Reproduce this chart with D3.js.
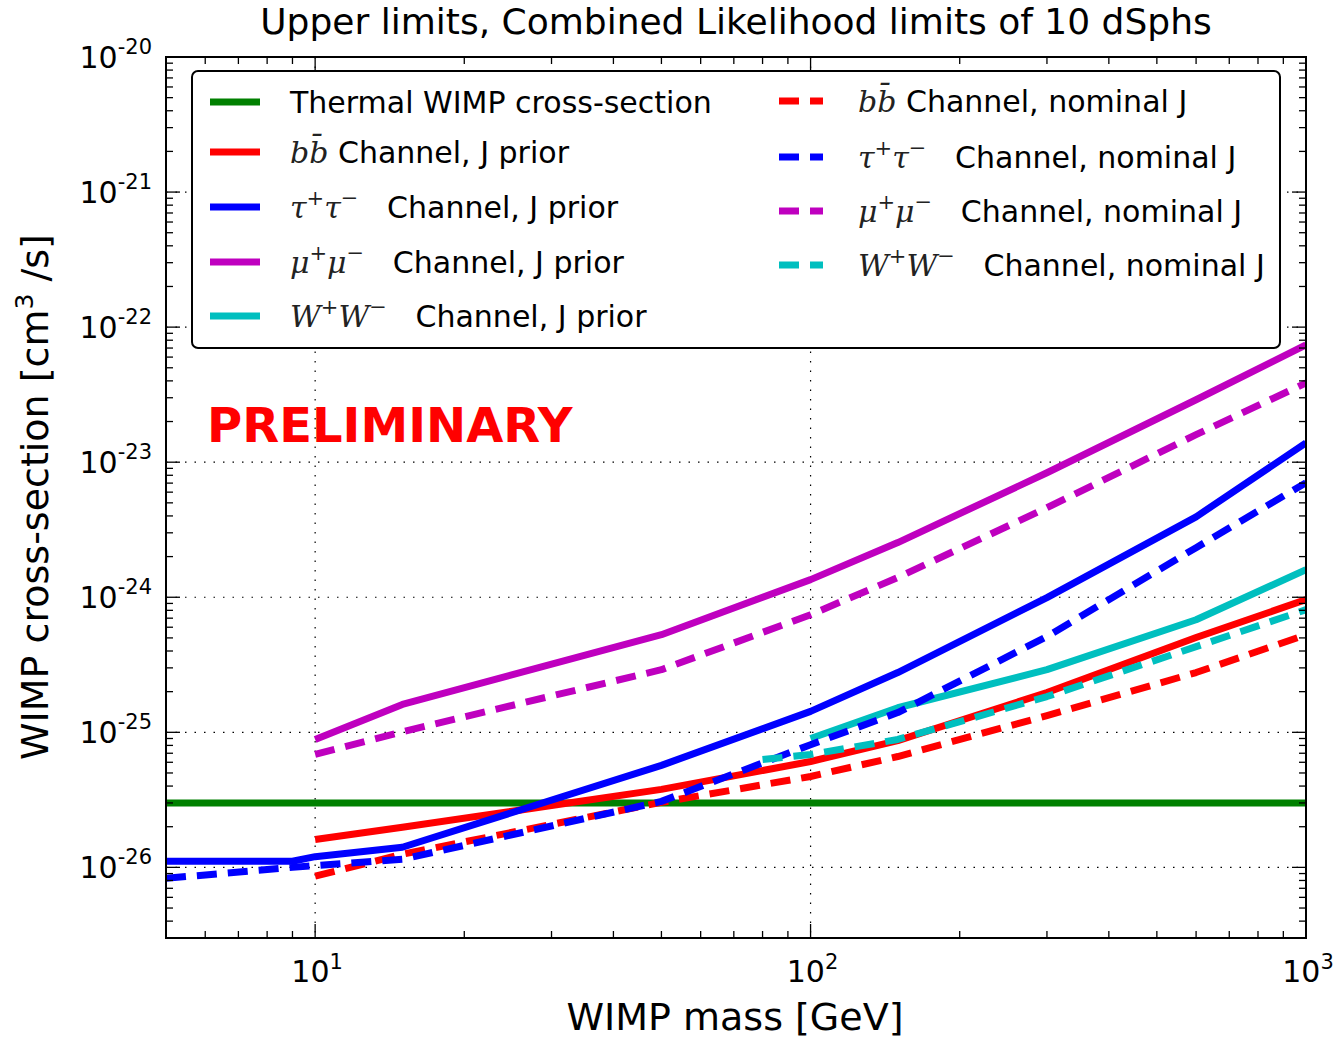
<!DOCTYPE html>
<html lang="en">
<head>
  <meta charset="UTF-8" />
  <title>Upper limits, Combined Likelihood limits of 10 dSphs</title>
  <script src="https://d3js.org/d3.v7.min.js"></script>
  <style>
    body { margin: 0; background: #fff; }
    text { font-family: "DejaVu Sans", sans-serif; fill: #000; }
    .math { font-family: "DejaVu Serif", serif; font-style: italic; fill: #222; }
  </style>
</head>
<body>
<div id="chart"></div>
<script>
  // masses [GeV]
  var massJ = [10, 15, 50, 100, 150, 300, 600, 1000];
  var massTau = [5, 9, 10, 15, 50, 100, 150, 300, 600, 1000];
  var massWW = [100, 150, 300, 600, 1000];
  var massWWnom = [80, 100, 150, 300, 600, 1000];

  // cross-section upper limits [cm^3/s]
  var bbPrior = [1.61e-26, 1.98e-26, 3.78e-26, 6.08e-26, 8.69e-26, 1.97e-25, 5.03e-25, 9.6e-25];
  var bbNom = [8.6e-27, 1.25e-26, 3.03e-26, 4.71e-26, 6.62e-26, 1.33e-25, 2.77e-25, 5.28e-25];
  var tauPrior = [1.11e-26, 1.11e-26, 1.2e-26, 1.41e-26, 5.69e-26, 1.43e-25, 2.77e-25, 9.93e-25, 3.94e-24, 1.39e-23];
  var tauNom = [8.3e-27, 1.0e-26, 1.03e-26, 1.15e-26, 3.08e-26, 8.1e-26, 1.40e-25, 5.12e-25, 2.33e-24, 7.05e-24];
  var muPrior = [8.85e-26, 1.61e-25, 5.28e-25, 1.35e-24, 2.54e-24, 8.35e-24, 2.9e-23, 7.38e-23];
  var muNom = [6.86e-26, 1.01e-25, 2.91e-25, 7.43e-25, 1.40e-24, 4.6e-24, 1.6e-23, 3.86e-23];
  var wwPrior = [9.0e-26, 1.52e-25, 2.91e-25, 6.82e-25, 1.60e-24];
  var wwNom = [6.29e-26, 6.86e-26, 8.85e-26, 1.84e-25, 4.31e-25, 8.09e-25];
  var thermal = 3e-26;

  var xTicks = [10, 100, 1000];
  var yTicks = [1e-26, 1e-25, 1e-24, 1e-23, 1e-22, 1e-21, 1e-20];

  var W = 1334, H = 1038;
  var pLeft = 166, pRight = 1306, pTop = 57, pBottom = 938;

  var svg = d3.select("#chart").append("svg")
    .attr("width", W)
    .attr("height", H);

  var x = d3.scaleLog().domain([5, 1000]).range([pLeft, pRight]);
  var y = d3.scaleLog().domain([3e-27, 1e-20]).range([pBottom, pTop]);

  svg.append("clipPath").attr("id", "clip")
    .append("rect")
    .attr("x", pLeft).attr("y", pTop)
    .attr("width", pRight - pLeft).attr("height", pBottom - pTop);

  // grid
  var grid = svg.append("g").attr("stroke", "#000").attr("stroke-width", 1.2)
    .attr("stroke-dasharray", "1.5,8");
  xTicks.filter(function(d) { return d < 1000; }).forEach(function(d) {
    grid.append("line").attr("x1", x(d)).attr("x2", x(d)).attr("y1", pTop).attr("y2", pBottom);
  });
  yTicks.filter(function(d) { return d < 1e-20; }).forEach(function(d) {
    grid.append("line").attr("x1", pLeft).attr("x2", pRight).attr("y1", y(d)).attr("y2", y(d));
  });

  // series
  var series = [
    { name: "thermal", m: [5, 1000], v: [thermal, thermal], color: "#008000", dash: null },
    { name: "bbPrior", m: massJ, v: bbPrior, color: "#ff0000", dash: null },
    { name: "tauPrior", m: massTau, v: tauPrior, color: "#0000ff", dash: null },
    { name: "muPrior", m: massJ, v: muPrior, color: "#bf00bf", dash: null },
    { name: "wwPrior", m: massWW, v: wwPrior, color: "#00bfbf", dash: null },
    { name: "bbNom", m: massJ, v: bbNom, color: "#ff0000", dash: "20,11" },
    { name: "tauNom", m: massTau, v: tauNom, color: "#0000ff", dash: "20,11" },
    { name: "muNom", m: massJ, v: muNom, color: "#bf00bf", dash: "20,11" },
    { name: "wwNom", m: massWWnom, v: wwNom, color: "#00bfbf", dash: "20,11" }
  ];

  var line = d3.line()
    .x(function(d) { return x(d[0]); })
    .y(function(d) { return y(d[1]); });

  var plot = svg.append("g").attr("clip-path", "url(#clip)");
  series.forEach(function(s) {
    var pts = s.m.map(function(m, i) { return [m, s.v[i]]; });
    plot.append("path")
      .datum(pts)
      .attr("d", line)
      .attr("fill", "none")
      .attr("stroke", s.color)
      .attr("stroke-width", 7)
      .attr("stroke-linejoin", "round")
      .attr("stroke-dasharray", s.dash);
  });

  // ticks on all four sides, pointing inward
  var ticks = svg.append("g").attr("stroke", "#000").attr("stroke-width", 1.3);
  var xMinor = [];
  [1, 10, 100].forEach(function(dec) {
    for (var k = 2; k <= 9; k++) {
      var v = dec * k;
      if (v > 5 && v < 1000 && v !== 10 && v !== 100) xMinor.push(v);
    }
  });
  var yMinor = [];
  [-27, -26, -25, -24, -23, -22, -21].forEach(function(e) {
    for (var k = 2; k <= 9; k++) {
      var v = k * Math.pow(10, e);
      if (v > 3e-27 && v < 1e-20) yMinor.push(v);
    }
  });
  function xt(v, len) {
    ticks.append("line").attr("x1", x(v)).attr("x2", x(v)).attr("y1", pBottom).attr("y2", pBottom - len);
    ticks.append("line").attr("x1", x(v)).attr("x2", x(v)).attr("y1", pTop).attr("y2", pTop + len);
  }
  function yt(v, len) {
    ticks.append("line").attr("y1", y(v)).attr("y2", y(v)).attr("x1", pLeft).attr("x2", pLeft + len);
    ticks.append("line").attr("y1", y(v)).attr("y2", y(v)).attr("x1", pRight).attr("x2", pRight - len);
  }
  xTicks.forEach(function(v) { xt(v, 14); });
  xMinor.forEach(function(v) { xt(v, 7); });
  yTicks.forEach(function(v) { yt(v, 14); });
  yMinor.forEach(function(v) { yt(v, 7); });

  // frame
  svg.append("rect")
    .attr("x", pLeft).attr("y", pTop)
    .attr("width", pRight - pLeft).attr("height", pBottom - pTop)
    .attr("fill", "none").attr("stroke", "#000").attr("stroke-width", 2);

  // tick labels
  xTicks.forEach(function(v) {
    var t = svg.append("text")
      .attr("x", x(v) + 2).attr("y", 982)
      .attr("text-anchor", "middle")
      .style("font-size", "30px");
    t.append("tspan").text("10");
    t.append("tspan").attr("dy", -13).style("font-size", "21px").text(Math.round(Math.log10(v)));
  });
  yTicks.forEach(function(v) {
    var t = svg.append("text")
      .attr("x", 152).attr("y", y(v) + 11)
      .attr("text-anchor", "end")
      .style("font-size", "30px");
    t.append("tspan").text("10");
    t.append("tspan").attr("dy", -14).style("font-size", "21px").text(Math.round(Math.log10(v)));
  });

  // axis titles
  svg.append("text")
    .attr("x", 735).attr("y", 1030)
    .attr("text-anchor", "middle")
    .style("font-size", "38px")
    .text("WIMP mass [GeV]");

  var yl = svg.append("text")
    .attr("transform", "translate(48,497) rotate(-90)")
    .attr("text-anchor", "middle")
    .style("font-size", "38px");
  yl.append("tspan").text("WIMP cross-section [cm");
  yl.append("tspan").attr("dy", -15).style("font-size", "25px").text("3");
  yl.append("tspan").attr("dy", 15).text(" /s]");

  svg.append("text")
    .attr("x", 736).attr("y", 34)
    .attr("text-anchor", "middle")
    .style("font-size", "36px")
    .text("Upper limits, Combined Likelihood limits of 10 dSphs");

  svg.append("text")
    .attr("x", 207).attr("y", 442)
    .style("font-size", "48px")
    .style("font-weight", "bold")
    .style("fill", "#ff0000")
    .text("PRELIMINARY");

  // legend
  var lg = svg.append("g");
  lg.append("rect")
    .attr("x", 192).attr("y", 71)
    .attr("width", 1088).attr("height", 277)
    .attr("rx", 6)
    .attr("fill", "#fff").attr("stroke", "#000").attr("stroke-width", 2);

  // math parts: [text, superscript?]
  var mathBB = [["bb\u0304", false]];
  var mathTau = [["\u03c4", false], ["+", true], ["\u03c4", false], ["\u2212", true]];
  var mathMu = [["\u03bc", false], ["+", true], ["\u03bc", false], ["\u2212", true]];
  var mathWW = [["W", false], ["+", true], ["W", false], ["\u2212", true]];

  var legendLeft = [
    { s: 0, math: null, label: "Thermal WIMP cross-section", y: 102 },
    { s: 1, math: mathBB, label: " Channel, J prior", y: 152 },
    { s: 2, math: mathTau, label: "   Channel, J prior", y: 207 },
    { s: 3, math: mathMu, label: "   Channel, J prior", y: 262 },
    { s: 4, math: mathWW, label: "   Channel, J prior", y: 316 }
  ];
  var legendRight = [
    { s: 5, math: mathBB, label: " Channel, nominal J", y: 101 },
    { s: 6, math: mathTau, label: "   Channel, nominal J", y: 157 },
    { s: 7, math: mathMu, label: "   Channel, nominal J", y: 211 },
    { s: 8, math: mathWW, label: "   Channel, nominal J", y: 265 }
  ];

  function legendRow(d, x0, x1, tx) {
    var s = series[d.s];
    lg.append("line")
      .attr("x1", x0).attr("x2", x1).attr("y1", d.y).attr("y2", d.y)
      .attr("stroke", s.color).attr("stroke-width", 7)
      .attr("stroke-dasharray", s.dash);
    var t = lg.append("text")
      .attr("x", tx).attr("y", d.y + 11)
      .style("font-size", "30px")
      .attr("xml:space", "preserve");
    var shift = 0;
    if (d.math) {
      d.math.forEach(function(p) {
        var dy = (p[1] ? -13 : 0) - shift;
        shift += dy;
        t.append("tspan").attr("class", "math")
          .attr("dy", dy)
          .style("font-size", p[1] ? "21px" : "30px")
          .text(p[0]);
      });
    }
    t.append("tspan").attr("dy", -shift).text(d.label);
  }
  legendLeft.forEach(function(d) { legendRow(d, 210, 260, 290); });
  legendRight.forEach(function(d) { legendRow(d, 779, 823, 858); });
</script>
</body>
</html>
